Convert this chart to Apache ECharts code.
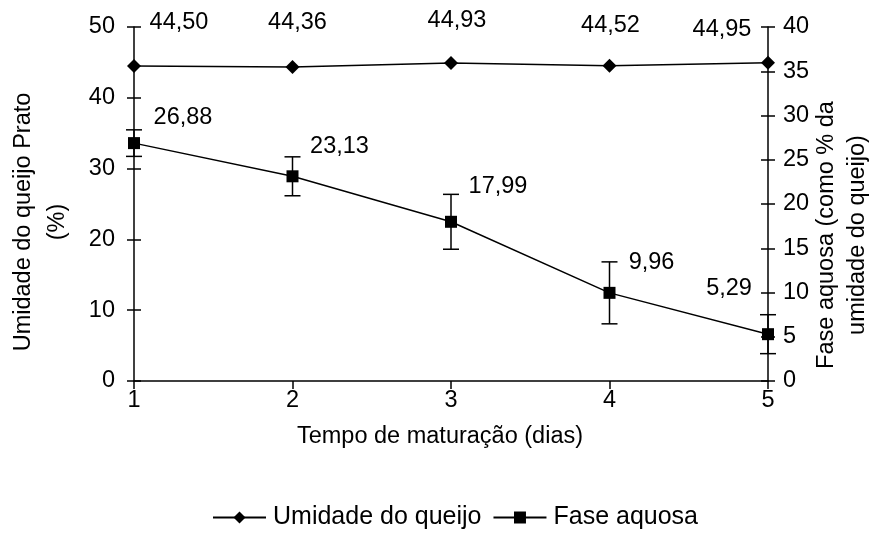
<!DOCTYPE html>
<html>
<head>
<meta charset="utf-8">
<script src="https://cdn.jsdelivr.net/npm/echarts@6/dist/echarts.min.js"></script>
<style>
  html, body { margin: 0; padding: 0; background: #fff; }
  #chart { width: 877px; height: 547px; }
</style>
</head>
<body>
<div id="chart"></div>
<script>
// Days of ripening
const dias = ['1', '2', '3', '4', '5'];
// Cheese moisture (%), left axis
const umidadeQueijo = [44.50, 44.36, 44.93, 44.52, 44.95];
// Aqueous phase (% of cheese moisture), right axis
const faseAquosa = [26.88, 23.13, 17.99, 9.96, 5.29];
// Error bar half-widths for the aqueous phase
const faseErro = [1.5, 2.2, 3.1, 3.5, 2.2];

const FONT = "'Liberation Sans', Arial, sans-serif";
const FS = 23.5;

// Label placement around each marker (px from marker centre)
const umidadeLabelOffsets = [[45, -43], [5, -44], [6, -42], [1, -40], [-46, -33]];
const faseLabelOffsets = [[49, -26], [47, -30], [47, -35], [42, -30], [-39, -46]];

const fmt = v => v.toFixed(2).replace('.', ',');

const chart = echarts.init(document.getElementById('chart'), null, { renderer: 'canvas' });

const axisLineStyle = { color: '#000', width: 1.5 };
const tickStyle = { color: '#000', width: 1.5 };

const option = {
  animation: false,
  backgroundColor: '#fff',
  textStyle: { fontFamily: FONT, color: '#000' },
  grid: { left: 134, right: 109, top: 27, bottom: 166, containLabel: false, outerBoundsMode: 'none' },
  legend: {
    bottom: 12,
    left: 207,
    itemWidth: 53,
    itemHeight: 15,
    itemGap: 11,
    textStyle: { fontSize: 25, fontFamily: FONT, color: '#000', padding: [0, 0, 0, 2] },
    data: ['Umidade do queijo', 'Fase aquosa']
  },
  xAxis: {
    type: 'category',
    data: dias,
    boundaryGap: false,
    name: 'Tempo de maturação (dias)',
    nameLocation: 'middle',
    nameGap: 44,
    nameMoveOverlap: false,
    nameTextStyle: { fontSize: FS, fontFamily: FONT, color: '#000', padding: [0, 22, 0, 0] },
    axisLine: { lineStyle: axisLineStyle },
    axisTick: { show: true, length: 8, lineStyle: tickStyle, alignWithLabel: true },
    axisLabel: { fontSize: FS, fontFamily: FONT, color: '#000', margin: 8 },
    splitLine: { show: false }
  },
  yAxis: [
    {
      type: 'value',
      position: 'left',
      min: 0, max: 50, interval: 10,
      name: 'Umidade do queijo Prato\n(%)',
      nameLocation: 'middle',
      nameRotate: 90,
      nameGap: 59,
      nameMoveOverlap: false,
      nameTextStyle: { fontSize: FS, fontFamily: FONT, color: '#000', lineHeight: 34, padding: [0, 36, 0, 0] },
      axisLine: { show: true, lineStyle: axisLineStyle },
      axisTick: { show: true, length: 7, lineStyle: tickStyle },
      axisLabel: { fontSize: FS, fontFamily: FONT, color: '#000', margin: 19 },
      splitLine: { show: false }
    },
    {
      type: 'value',
      position: 'right',
      min: 0, max: 40, interval: 5,
      name: 'Fase aquosa (como % da\numidade do queijo)',
      nameLocation: 'middle',
      nameRotate: 90,
      nameGap: 43,
      nameMoveOverlap: false,
      nameTextStyle: { fontSize: FS, fontFamily: FONT, color: '#000', lineHeight: 31, padding: [0, 62, 0, 0] },
      axisLine: { show: true, lineStyle: axisLineStyle },
      axisTick: { show: true, length: 7, lineStyle: tickStyle },
      axisLabel: { fontSize: FS, fontFamily: FONT, color: '#000', margin: 15 },
      splitLine: { show: false }
    },
    {
      // inner half of the left axis ticks
      type: 'value',
      position: 'left',
      min: 0, max: 50, interval: 10,
      axisLine: { show: false },
      axisTick: { show: true, inside: true, length: 7, lineStyle: tickStyle },
      axisLabel: { show: false },
      splitLine: { show: false }
    },
    {
      // inner half of the right axis ticks
      type: 'value',
      position: 'right',
      min: 0, max: 40, interval: 5,
      axisLine: { show: false },
      axisTick: { show: true, inside: true, length: 7, lineStyle: tickStyle },
      axisLabel: { show: false },
      splitLine: { show: false }
    }
  ],
  series: [
    {
      name: 'Umidade do queijo',
      type: 'line',
      yAxisIndex: 0,
      symbol: 'diamond',
      symbolSize: 14,
      showAllSymbol: true,
      lineStyle: { color: '#000', width: 1.5 },
      itemStyle: { color: '#000' },
      z: 5,
      data: umidadeQueijo.map((v, i) => ({
        value: v,
        label: {
          show: true,
          position: 'inside',
          align: 'center',
          verticalAlign: 'middle',
          offset: umidadeLabelOffsets[i],
          formatter: p => fmt(p.value),
          fontSize: FS, fontFamily: FONT, color: '#000'
        }
      }))
    },
    {
      name: 'Fase aquosa',
      type: 'line',
      yAxisIndex: 1,
      symbol: 'rect',
      symbolSize: 12,
      showAllSymbol: true,
      lineStyle: { color: '#000', width: 1.5 },
      itemStyle: { color: '#000' },
      z: 5,
      data: faseAquosa.map((v, i) => ({
        value: v,
        label: {
          show: true,
          position: 'inside',
          align: 'center',
          verticalAlign: 'middle',
          offset: faseLabelOffsets[i],
          formatter: p => fmt(p.value),
          fontSize: FS, fontFamily: FONT, color: '#000'
        }
      }))
    },
    {
      name: 'erro',
      type: 'custom',
      yAxisIndex: 1,
      z: 4,
      silent: true,
      data: faseAquosa.map((v, i) => [i, v - faseErro[i], v + faseErro[i]]),
      renderItem: function (params, api) {
        const x = api.value(0);
        const lo = api.coord([x, api.value(1)]);
        const hi = api.coord([x, api.value(2)]);
        const cap = 8;
        const style = { stroke: '#000', lineWidth: 1.5 };
        return {
          type: 'group',
          children: [
            { type: 'line', shape: { x1: lo[0], y1: lo[1], x2: hi[0], y2: hi[1] }, style },
            { type: 'line', shape: { x1: hi[0] - cap, y1: hi[1], x2: hi[0] + cap, y2: hi[1] }, style },
            { type: 'line', shape: { x1: lo[0] - cap, y1: lo[1], x2: lo[0] + cap, y2: lo[1] }, style }
          ]
        };
      }
    }
  ]
};

chart.setOption(option);
</script>
</body>
</html>
